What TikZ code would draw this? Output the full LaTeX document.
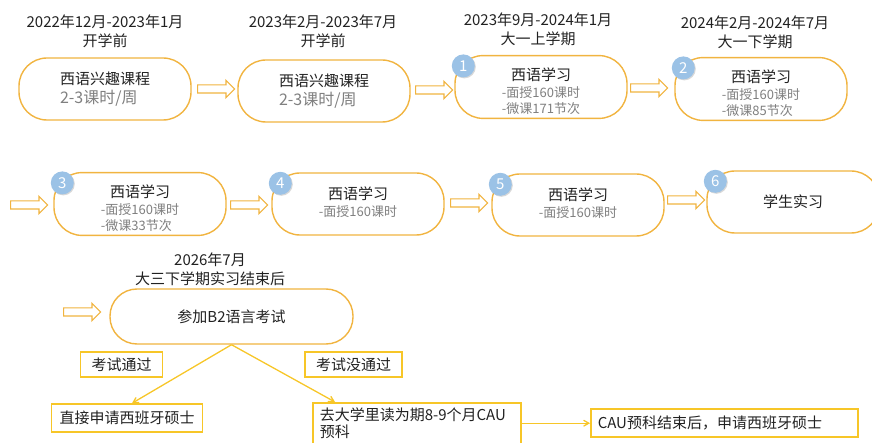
\documentclass[tikz,border=0pt]{standalone}
\usepackage{fontspec}
\newfontfamily\cjkfont{Noto Sans CJK SC}
\usepackage{tikz}
\usetikzlibrary{shapes.arrows,shadows,arrows}
\definecolor{boxorange}{RGB}{241,180,64}
\definecolor{tagyellow}{RGB}{247,198,40}
\definecolor{dotblue}{RGB}{155,194,230}
\definecolor{subgray}{RGB}{128,128,128}
\definecolor{inkblack}{RGB}{33,33,33}
\newcommand{\subtext}{\fontsize{13}{16}\selectfont\color{subgray}}
\newcommand{\graytext}{\fontsize{16}{19}\selectfont\color{subgray}}
\newcommand{\sublines}[1]{{\subtext\begin{tabular}[t]{@{}l@{}}#1\end{tabular}}}
\newcommand{\lowtitle}{\rule{0pt}{25pt}}
\tikzset
{
    phasenode/.style   = {rectangle, rounded corners=28pt, draw=boxorange, line width=1.4pt, fill=white, minimum width=172pt, minimum height=62pt, align=center, inner sep=0pt},
    datenode/.style    = {align=center, inner sep=0pt},
    numdot/.style      = {circle, fill=dotblue, text=white, minimum size=23pt, inner sep=0pt, drop shadow={opacity=0.3, shadow xshift=1pt, shadow yshift=-1pt}},
    hollowarrow/.style = {single arrow, draw=boxorange, fill=white, line width=1.2pt, minimum height=37pt, inner xsep=0pt, inner ysep=3.5pt, single arrow head extend=4.5pt, anchor=tail},
    tagnode/.style     = {rectangle, draw=tagyellow, line width=1.5pt, minimum height=25pt, inner xsep=11pt},
    resultnode/.style  = {rectangle, draw=tagyellow, line width=1.5pt, align=left, minimum height=28pt, inner xsep=7pt},
    yarrow/.style      = {->, draw=tagyellow, line width=1.3pt}
}

\begin{document}
\begin{tikzpicture}[x=1pt, y=-1pt, >=angle 60, font=\cjkfont\fontsize{15}{19}\selectfont, text=inkblack]
    \useasboundingbox (0,0) rectangle (872,443);

    % first row
    \node [datenode] (d1) at (105,31) {2022年12月-2023年1月\\开学前};
    \node [phasenode, align=left] (a1) at (105,89) {西语兴趣课程\\{\graytext 2-3课时/周}};
    \node [hollowarrow] (ar1) at (197,89) {};
    \node [datenode] (d2) at (323,31) {2023年2月-2023年7月\\开学前};
    \node [phasenode, align=left] (a2) at (324,91) {西语兴趣课程\\{\graytext 2-3课时/周}};
    \node [hollowarrow] (ar2) at (415,90) {};
    \node [datenode] (d3) at (538,29) {2023年9月-2024年1月\\大一上学期};
    \node [phasenode] (a3) at (541,87) {\lowtitle 西语学习\\[-2pt]\sublines{-面授160课时\\-微课171节次}};
    \node [numdot] (n1) at ([xshift=9pt,yshift=-11pt]a3.north west) {1};
    \node [hollowarrow] (ar3) at (630,88) {};
    \node [datenode] (d4) at (755,32) {2024年2月-2024年7月\\大一下学期};
    \node [phasenode] (a4) at (761,89) {\lowtitle 西语学习\\[-2pt]\sublines{-面授160课时\\-微课85节次}};
    \node [numdot] (n2) at ([xshift=9pt,yshift=-11pt]a4.north west) {2};

    % second row
    \node [hollowarrow] (ar4) at (10,205) {};
    \node [phasenode] (b1) at (140,204) {\lowtitle 西语学习\\[-2pt]\sublines{-面授160课时\\-微课33节次}};
    \node [numdot] (n3) at ([xshift=9pt,yshift=-11pt]b1.north west) {3};
    \node [hollowarrow] (ar5) at (230,205) {};
    \node [phasenode] (b2) at (358,204) {西语学习\\[-2pt]\sublines{-面授160课时}};
    \node [numdot] (n4) at ([xshift=9pt,yshift=-11pt]b2.north west) {4};
    \node [hollowarrow] (ar6) at (450,203) {};
    \node [phasenode] (b3) at (578,205) {西语学习\\[-2pt]\sublines{-面授160课时}};
    \node [numdot] (n5) at ([xshift=9pt,yshift=-11pt]b3.north west) {5};
    \node [hollowarrow] (ar7) at (667,200) {};
    \node [phasenode] (b4) at (793,202) {学生实习};
    \node [numdot] (n6) at ([xshift=9pt,yshift=-11pt]b4.north west) {6};

    % exam and after
    \node [datenode] (d5) at (210,269) {2026年7月\\大三下学期实习结束后};
    \node [hollowarrow] (ar8) at (63,312) {};
    \node [phasenode, minimum width=243pt, minimum height=55pt, rounded corners=27pt] (exam) at (231.5,316.5) {参加B2语言考试};
    \node [tagnode] (pass) at (121.5,364.5) {考试通过};
    \node [tagnode] (fail) at (353.5,364.5) {考试没通过};
    \node [resultnode, inner xsep=8pt] (direct) at (127,418) {直接申请西班牙硕士};
    \node [resultnode, anchor=north west, text width=194pt, inner ysep=5pt, font=\cjkfont\fontsize{15}{17}\selectfont] (cau) at (312,402) {去大学里读为期8-9个月CAU\\预科};
    \node [resultnode, anchor=west, text width=253pt] (final) at (590,423) {CAU预科结束后，申请西班牙硕士};

    \draw [yarrow] (exam.south) -- ([xshift=5pt]direct.north);
    \draw [yarrow] (exam.south) -- ([xshift=23pt]cau.north west);
    \draw [yarrow] (cau.east) -- (cau.east -| final.west);
\end{tikzpicture}
\end{document}
